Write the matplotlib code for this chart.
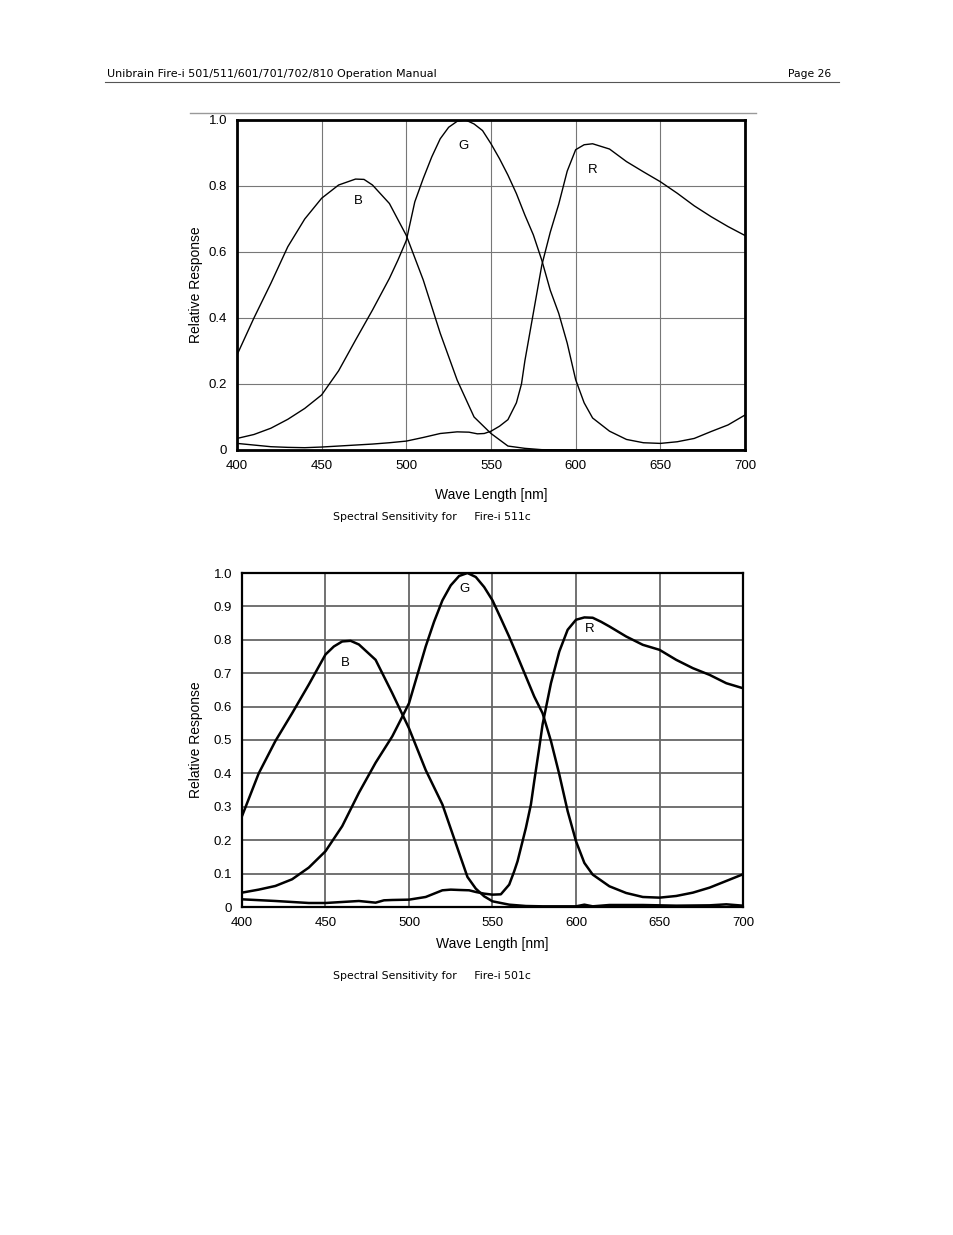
import matplotlib
matplotlib.use("Agg")
import matplotlib.pyplot as plt
from matplotlib.lines import Line2D

# ---------------- data: Fire-i 511c ----------------
wl_b1 = [400, 410, 420, 430, 440, 450, 460, 470, 475, 480, 490, 500, 510, 520, 530, 540, 550, 560, 570, 580, 600, 650, 700]
b1 = [0.288, 0.40, 0.505, 0.616, 0.70, 0.763, 0.803, 0.821, 0.82, 0.803, 0.747, 0.65, 0.515, 0.354, 0.212, 0.10, 0.05, 0.012, 0.005, 0.001, 0.0, 0.0, 0.0]

wl_g1 = [400, 410, 420, 430, 440, 450, 460, 470, 480, 490, 495, 500, 505, 510, 515, 520, 525, 530, 535, 540, 545, 550, 555, 560, 565, 570, 575, 580, 585, 590, 595, 600, 605, 610, 620, 630, 640, 650, 660, 670, 680, 690, 700]
g1 = [0.035, 0.047, 0.066, 0.093, 0.126, 0.167, 0.24, 0.333, 0.424, 0.52, 0.575, 0.635, 0.752, 0.823, 0.888, 0.943, 0.978, 0.996, 1.0, 0.988, 0.968, 0.928, 0.883, 0.833, 0.777, 0.712, 0.652, 0.575, 0.484, 0.414, 0.324, 0.213, 0.143, 0.097, 0.057, 0.032, 0.022, 0.02, 0.025, 0.035, 0.056, 0.076, 0.106]

wl_r1 = [400, 410, 420, 430, 440, 450, 460, 470, 480, 490, 500, 510, 520, 530, 537, 542, 546, 550, 555, 560, 565, 568, 570, 575, 580, 585, 590, 595, 600, 605, 610, 620, 630, 640, 650, 660, 670, 680, 690, 700]
r1 = [0.02, 0.015, 0.01, 0.008, 0.007, 0.009, 0.012, 0.015, 0.018, 0.022, 0.027, 0.038, 0.05, 0.055, 0.054, 0.049, 0.05, 0.057, 0.072, 0.092, 0.143, 0.2, 0.27, 0.415, 0.56, 0.66, 0.745, 0.845, 0.91, 0.925, 0.928, 0.912, 0.874, 0.843, 0.813, 0.778, 0.74, 0.707, 0.677, 0.65]

# ---------------- data: Fire-i 501c ----------------
wl_b2 = [400, 410, 420, 430, 440, 450, 455, 460, 465, 470, 480, 490, 500, 510, 520, 530, 535, 540, 545, 550, 560, 570, 580, 600, 605, 610, 620, 640, 660, 680, 690, 700]
b2 = [0.272, 0.40, 0.497, 0.58, 0.666, 0.756, 0.78, 0.795, 0.797, 0.786, 0.74, 0.64, 0.535, 0.41, 0.307, 0.162, 0.09, 0.055, 0.032, 0.017, 0.007, 0.003, 0.002, 0.002, 0.007, 0.002, 0.006, 0.006, 0.004, 0.005, 0.008, 0.004]

wl_g2 = [400, 410, 420, 430, 440, 450, 460, 470, 480, 490, 495, 500, 505, 510, 515, 520, 525, 530, 535, 540, 545, 550, 555, 560, 565, 570, 575, 580, 585, 590, 595, 600, 605, 610, 620, 630, 640, 650, 660, 670, 680, 690, 700]
g2 = [0.043, 0.052, 0.063, 0.083, 0.118, 0.167, 0.242, 0.342, 0.432, 0.511, 0.56, 0.61, 0.695, 0.78, 0.854, 0.918, 0.963, 0.991, 1.0, 0.988, 0.958, 0.918, 0.864, 0.809, 0.75, 0.69, 0.63, 0.58, 0.497, 0.397, 0.287, 0.197, 0.132, 0.097, 0.062, 0.042, 0.03, 0.028, 0.033, 0.043, 0.058, 0.078, 0.098]

wl_r2 = [400, 420, 440, 450, 460, 470, 480, 485, 490, 500, 510, 520, 525, 530, 536, 540, 545, 550, 555, 560, 563, 565, 567, 570, 573, 575, 578, 580, 585, 590, 595, 600, 605, 610, 615, 620, 630, 640, 650, 660, 670, 680, 690, 700]
r2 = [0.023, 0.018, 0.012, 0.012, 0.015, 0.018, 0.013, 0.02, 0.021, 0.022, 0.03, 0.05, 0.052, 0.051, 0.05, 0.045, 0.04, 0.037, 0.038, 0.067, 0.107, 0.137, 0.177, 0.237, 0.307, 0.377, 0.477, 0.547, 0.67, 0.765, 0.83, 0.86, 0.867, 0.866, 0.854, 0.84, 0.81, 0.785, 0.77, 0.74, 0.715, 0.695, 0.67, 0.655]

xticks = [400, 450, 500, 550, 600, 650, 700]
yticks1 = [0, 0.2, 0.4, 0.6, 0.8, 1.0]
ylabels1 = ["0", "0.2", "0.4", "0.6", "0.8", "1.0"]
yticks2 = [0, 0.1, 0.2, 0.3, 0.4, 0.5, 0.6, 0.7, 0.8, 0.9, 1.0]
ylabels2 = ["0", "0.1", "0.2", "0.3", "0.4", "0.5", "0.6", "0.7", "0.8", "0.9", "1.0"]

labels1 = [("B", 471.5, 0.755), ("G", 533.5, 0.921), ("R", 610, 0.848)]
labels2 = [("B", 461.7, 0.73), ("G", 533, 0.952), ("R", 608.4, 0.832)]

header_left = "Unibrain Fire-i 501/511/601/701/702/810 Operation Manual"
header_right = "Page 26"
caption1 = "Spectral Sensitivity for     Fire-i 511c"
caption2 = "Spectral Sensitivity for     Fire-i 501c"

W, H = 954, 1235
fig = plt.figure(figsize=(W / 100, H / 100), dpi=100)
fig.patch.set_facecolor("white")
renderer = fig.canvas.get_renderer()

def fx(px):
    return px / W

def fy(py):
    return 1 - py / H

def fit_text(x, y, s, target_w, ha="left", size=8.5):
    t = fig.text(fx(x), fy(y), s, family="DejaVu Sans", fontsize=size, ha=ha, va="center")
    w = t.get_window_extent(renderer=renderer).width
    if w > 0:
        t.set_fontsize(size * target_w / w)
    return t

# header
fit_text(107, 74, header_left, 331)
fit_text(831, 74, header_right, 43, ha="right")
fig.add_artist(Line2D([fx(105), fx(839)], [fy(81.5), fy(81.5)], color="#555555", lw=0.8))
fig.add_artist(Line2D([fx(190), fx(756)], [fy(113), fy(113)], color="#999999", lw=1.0))

tickfont = dict(family="Liberation Sans", fontsize=9.5)

def make_axes(rect, yticks, ylabels, curves, labels, grid_lw, grid_col, line_lw, spine_lw, ylabel_x):
    ax = fig.add_axes(rect)
    for wl, vals in curves:
        ax.plot(wl, vals, color="black", lw=line_lw, solid_joinstyle="round", solid_capstyle="round")
    ax.set_xlim(400, 700)
    ax.set_ylim(0, 1.0)
    ax.set_xticks(xticks)
    ax.set_xticklabels([str(v) for v in xticks], **tickfont)
    ax.set_yticks(yticks)
    ax.set_yticklabels(ylabels, **tickfont)
    ax.tick_params(length=0, pad=7)
    ax.grid(True, color=grid_col, lw=grid_lw)
    ax.set_axisbelow(True)
    for s in ax.spines.values():
        s.set_linewidth(spine_lw)
        s.set_color("black")
    for t, x, y in labels:
        ax.text(x, y, t, ha="center", va="center", family="Liberation Sans", fontsize=9.5)
    ax.set_xlabel("Wave Length [nm]", family="Liberation Sans", fontsize=10, labelpad=12)
    ax.set_ylabel("Relative Response", family="Liberation Sans", fontsize=10)
    ax.yaxis.set_label_coords(ylabel_x, 0.5)
    return ax

ax1 = make_axes([fx(237), fy(450), (745 - 237) / W, (450 - 120) / H], yticks1, ylabels1,
                [(wl_b1, b1), (wl_g1, g1), (wl_r1, r1)], labels1,
                0.8, "#777777", 1.0, 2.0, (203 - 237) / 508)
ax2 = make_axes([fx(242), fy(907), (743 - 242) / W, (907 - 573) / H], yticks2, ylabels2,
                [(wl_b2, b2), (wl_g2, g2), (wl_r2, r2)], labels2,
                1.3, "#666666", 1.8, 1.6, (203 - 242) / 501)
ax2.xaxis.labelpad = 6

fit_text(333, 517, caption1, 197)
fit_text(333, 976, caption2, 197)

fig.savefig("out.png", dpi=100, facecolor="white")
